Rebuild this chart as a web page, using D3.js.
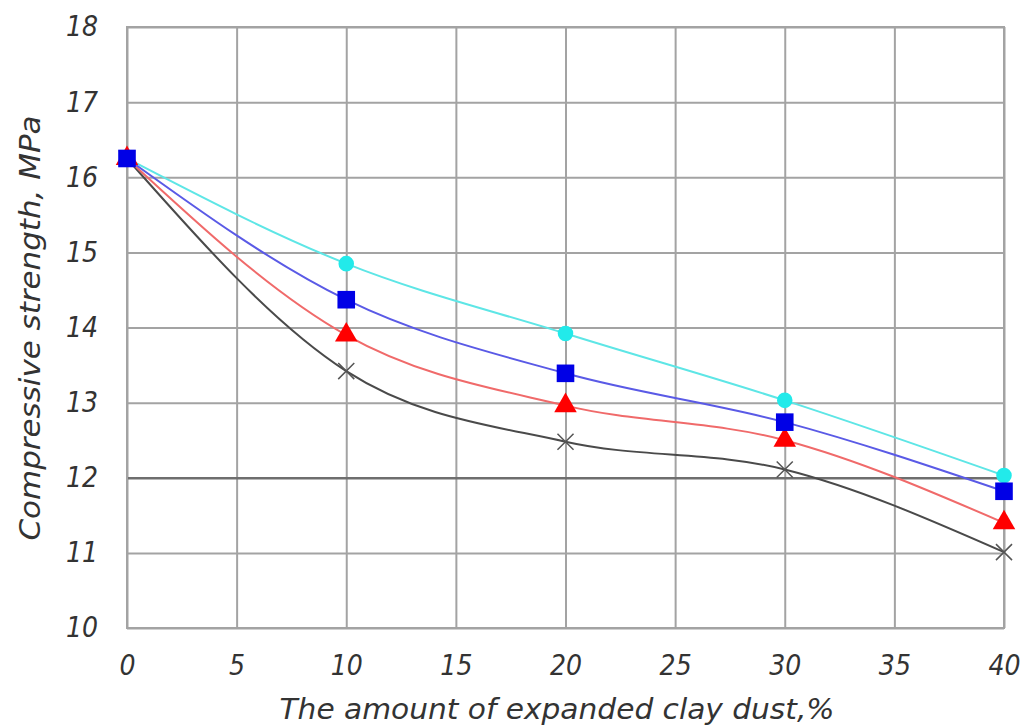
<!DOCTYPE html>
<html>
<head>
<meta charset="utf-8">
<script src="https://cdn.jsdelivr.net/npm/d3@7"></script>
<style>
  body { margin: 0; background: #fff; }
  text { font-family: "DejaVu Sans Condensed", "DejaVu Sans", sans-serif; font-style: italic; fill: #333; }
</style>
</head>
<body>
<script>
// DATA
var xValues = [0, 10, 20, 30, 40];
var cyanSeries  = [16.25, 14.85, 13.92, 13.03, 12.03];
var blueSeries  = [16.25, 14.37, 13.39, 12.74, 11.82];
var redSeries   = [16.25, 13.90, 12.96, 12.50, 11.40];
var blackSeries = [16.25, 13.42, 12.48, 12.11, 11.01];
var xTicks = [0, 5, 10, 15, 20, 25, 30, 35, 40];
var yTicks = [10, 11, 12, 13, 14, 15, 16, 17, 18];
var xTitle = "The amount of expanded clay dust,%";
var yTitle = "Compressive strength, MPa";

// CANVAS
var W = 1024, H = 726;
var pLeft = 127, pRight = 1004, pTop = 27, pBottom = 628;

var svg = d3.select("body").append("svg")
  .attr("width", W).attr("height", H);

var x = d3.scaleLinear().domain([0, 40]).range([pLeft, pRight]);
var y = d3.scaleLinear().domain([10, 18]).range([pBottom, pTop]);

// grid + tick labels
var gx = svg.append("g")
  .attr("transform", "translate(0," + pBottom + ")")
  .call(d3.axisBottom(x).tickValues(xTicks).tickSize(-(pBottom - pTop)).tickPadding(27).tickFormat(d3.format("d")));
var gy = svg.append("g")
  .attr("transform", "translate(" + pLeft + ",0)")
  .call(d3.axisLeft(y).tickValues(yTicks).tickSize(-(pRight - pLeft)).tickPadding(29).tickFormat(d3.format("d")));

[gx, gy].forEach(function(g){
  g.select(".domain").remove();
  g.selectAll(".tick line").attr("stroke", "#a3a3a3").attr("stroke-width", 2);
  g.selectAll(".tick text").attr("font-size", 28).attr("fill", "#333");
});
gy.selectAll(".tick line").filter(function(d){ return d == 12; })
  .attr("stroke", "#6e6e6e").attr("stroke-width", 2.5);

svg.append("rect")
  .attr("x", pLeft).attr("y", pTop)
  .attr("width", pRight - pLeft).attr("height", pBottom - pTop)
  .attr("fill", "none").attr("stroke", "#a3a3a3").attr("stroke-width", 2);

// axis titles
svg.append("text")
  .attr("x", 557).attr("y", 719)
  .attr("text-anchor", "middle")
  .attr("font-size", 28)
  .attr("textLength", 555).attr("lengthAdjust", "spacingAndGlyphs")
  .text(xTitle);

svg.append("text")
  .attr("transform", "translate(40,328) rotate(-90)")
  .attr("text-anchor", "middle")
  .attr("font-size", 28)
  .attr("textLength", 425).attr("lengthAdjust", "spacingAndGlyphs")
  .text(yTitle);

// series (blue drawn last so its square sits on top at 0)
var series = [
  {name: "black", values: blackSeries, line: "#4a4a4a", marker: "times", fill: "none", stroke: "#555"},
  {name: "red",   values: redSeries,   line: "#f06a6a", marker: "triangle", fill: "#ff0000", stroke: "none"},
  {name: "cyan",  values: cyanSeries,  line: "#5ee6e6", marker: "circle", fill: "#22eaea", stroke: "none"},
  {name: "blue",  values: blueSeries,  line: "#5a5ae6", marker: "square", fill: "#0000e6", stroke: "none"}
];

var line = d3.line()
  .x(function(d){ return x(d.x); })
  .y(function(d){ return y(d.y); })
  .curve(d3.curveMonotoneX);

var symbolTypes = {
  times: d3.symbolTimes, triangle: d3.symbolTriangle, square: d3.symbolSquare, circle: d3.symbolCircle
};
var symbolSizes = { times: 170, triangle: 220, square: 310, circle: 190 };

series.forEach(function(s){
  var pts = xValues.map(function(v, i){ return {x: v, y: s.values[i]}; });
  svg.append("path")
    .datum(pts)
    .attr("d", line)
    .attr("fill", "none")
    .attr("stroke", s.line)
    .attr("stroke-width", 2);
});

series.forEach(function(s){
  var pts = xValues.map(function(v, i){ return {x: v, y: s.values[i]}; });
  svg.selectAll("path.m-" + s.name)
    .data(pts)
    .enter().append("path")
    .attr("class", "m-" + s.name)
    .attr("transform", function(d){ return "translate(" + x(d.x) + "," + y(d.y) + ")"; })
    .attr("d", d3.symbol().type(symbolTypes[s.marker]).size(symbolSizes[s.marker]))
    .attr("fill", s.fill)
    .attr("stroke", s.stroke)
    .attr("stroke-width", 1.5);
});
</script>
</body>
</html>
